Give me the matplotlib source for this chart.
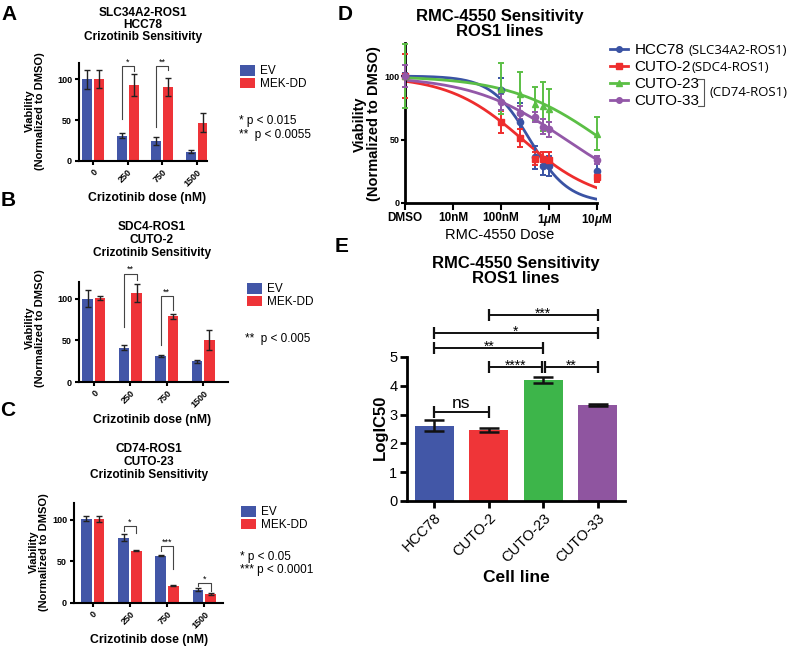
import numpy as np
import matplotlib
matplotlib.use("Agg")
import matplotlib.pyplot as plt
from matplotlib.lines import Line2D
from matplotlib.ticker import FixedLocator, LogLocator, NullFormatter

plt.rcParams["font.family"] = ["Liberation Sans", "DejaVu Sans"]
plt.rcParams["mathtext.fontset"] = "custom"
plt.rcParams["mathtext.rm"] = "Liberation Sans:bold"
plt.rcParams["mathtext.it"] = "Liberation Sans:italic:bold"

# ---- data: panels A-C (crizotinib, viability % of DMSO) ----
doses = ["0", "250", "750", "1500"]
a_ev = [100, 31, 25, 11.5]
a_ev_err = [12, 3, 5, 2]
a_mek = [100, 93, 91, 47]
a_mek_err = [11, 14, 11, 12]
b_ev = [100, 41, 31, 25]
b_ev_err = [10, 3, 1.5, 2]
b_mek = [101, 107, 79, 50]
b_mek_err = [2, 11, 3, 12]
c_ev = [101, 78.5, 57, 16]
c_ev_err = [3, 4, 1, 2]
c_mek = [101, 63, 21, 10.5]
c_mek_err = [4, 1, 1, 1]

# ---- data: panel D (RMC-4550 dose response) ----
d_doses = [1, 100, 250, 500, 750, 1000, 10000]  # nM, DMSO plotted at 1 nM
d_names = ["HCC78", "CUTO-2", "CUTO-23", "CUTO-33"]
d_fusions = ["(SLC34A2-ROS1)", "(SDC4-ROS1)", "(CD74-ROS1)"]
hcc78 = [100, 88.7, 63.8, 36, 29, 29, 25]
hcc78_err = [2, 10, 15, 9, 7, 8, 8]
cuto2 = [100, 63.8, 51, 35, 35, 34, 20.5]
cuto2_err = [17, 9, 7, 5, 5, 6, 4]
cuto23 = [100, 90, 86, 78, 76, 74, 54.6]
cuto23_err = [25, 20, 17, 13, 19, 16, 13]
cuto33 = [100, 79.5, 71, 68, 60, 58, 34]
cuto33_err = [8.5, 6, 5, 4, 6, 6, 3]
# fitted 4PL curves: top, bottom, logIC50 (nM), hill slope
fit_top = [100, 100, 100, 100]
fit_bottom = [0, 0, 0, 0]
fit_logic50 = [2.60, 2.45, 4.11, 3.35]
fit_hill = [1.08, 0.56, 0.45, 0.44]

# ---- data: panel E (LogIC50) ----
cell_lines = ["HCC78", "CUTO-2", "CUTO-23", "CUTO-33"]
logic50 = [2.62, 2.48, 4.19, 3.34]
logic50_err = [0.18, 0.07, 0.1, 0.03]

EV_C = "#4256a7"
MEK_C = "#ee3338"
LINE_C = ["#3a53a4", "#ee2d2d", "#5bbf45", "#9358a8"]
E_C = ["#4257a7", "#ef3538", "#3db54a", "#8f55a0"]

W, H = 800, 650
fig = plt.figure(figsize=(W / 100, H / 100), dpi=100)


def box(l, t, r, b):
    return [l / W, 1 - b / H, (r - l) / W, (b - t) / H]


def ft(x, y, s, **kw):
    return fig.text(x / W, 1 - y / H, s, **kw)


def prism(ax, lw=1.5):
    for s in ("top", "right"):
        ax.spines[s].set_visible(False)
    for s in ("left", "bottom"):
        ax.spines[s].set_linewidth(lw)


def bar_panel(rect, xlim, ev, ev_err, mek, mek_err, brackets, leg_xy):
    ax = fig.add_axes(rect)
    x = np.arange(len(doses))
    ekw = dict(lw=1, capsize=2.5, capthick=1, ecolor="#222222")
    ax.bar(x - 0.17, ev, 0.29, yerr=ev_err, color=EV_C, error_kw=ekw, label="EV")
    ax.bar(x + 0.17, mek, 0.29, yerr=mek_err, color=MEK_C, error_kw=ekw, label="MEK-DD")
    ax.set_xlim(*xlim)
    ax.set_ylim(0, 120)
    ax.set_yticks([0, 50, 100])
    ax.set_xticks(x)
    ax.set_xticklabels(doses, rotation=45, ha="right", rotation_mode="anchor",
                       fontsize=7.5, fontweight="bold")
    prism(ax)
    ax.tick_params(width=1.5, length=3, labelsize=6.5, pad=2)
    for t in ax.get_yticklabels():
        t.set_fontweight("bold")
    for g, lb, top, rb, lab in brackets:
        xl, xr = g - 0.17, g + 0.17
        ax.plot([xl, xl, xr, xr], [lb, top, top, rb], color="#444444", lw=0.8, clip_on=False)
        ax.text(g, top + 2, lab, ha="center", va="baseline", fontsize=6.5)
    ax.legend(loc="upper left", bbox_to_anchor=(leg_xy[0] / W, 1 - leg_xy[1] / H),
              bbox_transform=fig.transFigure, frameon=False, fontsize=8.5,
              handlelength=1.3, handleheight=1.0, handletextpad=0.4,
              labelspacing=0.05, borderpad=0, borderaxespad=0)
    return ax


# ---- A ----
bar_panel(box(79, 63, 207, 161), (-0.41, 3.3), a_ev, a_ev_err, a_mek, a_mek_err,
          [(1, 51, 116, 110, "*"), (2, 42, 116, 111, "**")], (240, 65))
ft(143, 25, "SLC34A2-ROS1\nHCC78\nCrizotinib Sensitivity", ha="center", va="center",
   fontsize=8.6, fontweight="bold", linespacing=1.05)
ft(35, 111, "Viability\n(Normalized to DMSO)", rotation=90, ha="center", va="center",
   fontsize=8, fontweight="bold", linespacing=1.0)
ft(147, 198, "Crizotinib dose (nM)", ha="center", va="center", fontsize=8.8, fontweight="bold")
ft(239, 121, "* p < 0.015", ha="left", va="center", fontsize=8.5)
ft(239, 135, "**  p < 0.0055", ha="left", va="center", fontsize=8.5)

# ---- B ----
bar_panel(box(79, 282, 228, 382), (-0.41, 3.68), b_ev, b_ev_err, b_mek, b_mek_err,
          [(1, 66, 130, 122, "**"), (2, 44, 103, 86, "**")], (247, 283))
ft(152, 240, "SDC4-ROS1\nCUTO-2\nCrizotinib Sensitivity", ha="center", va="center",
   fontsize=8.6, fontweight="bold", linespacing=1.1)
ft(35, 328, "Viability\n(Normalized to DMSO)", rotation=90, ha="center", va="center",
   fontsize=8, fontweight="bold", linespacing=1.0)
ft(152, 420, "Crizotinib dose (nM)", ha="center", va="center", fontsize=8.8, fontweight="bold")
ft(245, 339, "**  p < 0.005", ha="left", va="center", fontsize=8.5)

# ---- C ----
bar_panel(box(74, 503, 223, 603), (-0.5, 3.5), c_ev, c_ev_err, c_mek, c_mek_err,
          [(1, 86, 92, 84, "*"), (2, 62, 68.5, 41, "***"), (3, 20, 24, 14, "*")], (241, 506))
ft(149, 462, "CD74-ROS1\nCUTO-23\nCrizotinib Sensitivity", ha="center", va="center",
   fontsize=8.6, fontweight="bold", linespacing=1.1)
ft(39, 552, "Viability\n(Normalized to DMSO)", rotation=90, ha="center", va="center",
   fontsize=8, fontweight="bold", linespacing=1.0)
ft(149, 640, "Crizotinib dose (nM)", ha="center", va="center", fontsize=8.8, fontweight="bold")
ft(240, 557, "* p < 0.05", ha="left", va="center", fontsize=8.5)
ft(240, 570, "*** p < 0.0001", ha="left", va="center", fontsize=8.5)

# ---- D ----
axD = fig.add_axes(box(405, 43, 597, 203))
d_vals = [hcc78, cuto2, cuto23, cuto33]
d_errs = [hcc78_err, cuto2_err, cuto23_err, cuto33_err]
markers = ["o", "s", "^", "o"]
xs = np.logspace(0, 4, 300)
handles = []
for k in range(4):
    c = LINE_C[k]
    axD.errorbar(d_doses, d_vals[k], yerr=d_errs[k], fmt=markers[k], color=c, ms=4.5,
                 elinewidth=1.4, capsize=2.5, capthick=1.4, clip_on=False, zorder=3)
    curve = fit_bottom[k] + (fit_top[k] - fit_bottom[k]) / (1 + 10 ** ((np.log10(xs) - fit_logic50[k]) * fit_hill[k]))
    axD.plot(xs, curve, color=c, lw=2, zorder=2)
    handles.append(Line2D([], [], color=c, lw=2, marker=markers[k], ms=4))
axD.set_xscale("log")
axD.set_xlim(1, 10000)
axD.set_ylim(0, 126)
axD.set_yticks([0, 50, 100])
axD.xaxis.set_major_locator(FixedLocator([1, 10, 100, 1000, 10000]))
axD.set_xticklabels(["DMSO", "10nM", "100nM", "1$\\mu$M", "10$\\mu$M"], fontsize=8.5, fontweight="bold")
axD.xaxis.set_minor_locator(LogLocator(base=10, subs=np.arange(2, 10)))
axD.xaxis.set_minor_formatter(NullFormatter())
prism(axD, 2)
axD.tick_params(axis="x", which="major", width=1.5, length=5, pad=1.5)
axD.tick_params(axis="x", which="minor", width=1.2, length=3)
axD.tick_params(axis="y", width=1.5, length=3, labelsize=6.5, pad=1)
for t in axD.get_yticklabels():
    t.set_fontweight("bold")
ft(500, 24, "RMC-4550 Sensitivity\nROS1 lines", ha="center", va="center", fontsize=12,
   fontweight="bold", linespacing=1.0)
ft(367, 124, "Viability\n(Normalized to DMSO)", rotation=90, ha="center", va="center",
   fontsize=10.5, fontweight="bold", linespacing=1.0)
ft(500, 235, "RMC-4550 Dose", ha="center", va="center", fontsize=10.5)
leg = axD.legend(handles, d_names, loc="upper left", bbox_to_anchor=(610 / W, 1 - 43 / H),
                 bbox_transform=fig.transFigure, frameon=False, fontsize=11,
                 handlelength=1.2, handletextpad=0.4, labelspacing=0.2,
                 borderpad=0, borderaxespad=0)

# ---- E ----
axE = fig.add_axes(box(407, 357, 625, 501))
xe = np.arange(len(cell_lines))
axE.bar(xe, logic50, 0.72, color=E_C)
axE.errorbar(xe, logic50, yerr=logic50_err, fmt="none", ecolor="#111111", elinewidth=1.8,
             capsize=7, capthick=1.8)
axE.set_xlim(-0.5, 3.5)
axE.set_ylim(0, 5)
axE.set_yticks(range(6))
axE.set_xticks(xe)
axE.set_xticklabels(cell_lines, rotation=45, ha="right", rotation_mode="anchor", fontsize=10.5)
prism(axE, 2)
axE.tick_params(width=2, length=5, labelsize=10.5, pad=2)
e_brackets = [(0, 1, 3.08, "ns"), (1, 1.97, 4.64, "****"), (2.03, 3, 4.64, "**"),
              (0, 2, 5.3, "**"), (0, 3, 5.85, "*"), (1, 3, 6.47, "***")]
for x1, x2, y, lab in e_brackets:
    axE.plot([x1, x2], [y, y], color="#111111", lw=1.4, marker="|", ms=8, mew=1.6, clip_on=False)
    if lab == "ns":
        axE.text((x1 + x2) / 2, y + 0.14, lab, ha="center", va="baseline", fontsize=12.5)
    else:
        axE.text((x1 + x2) / 2, y - 0.1, lab, ha="center", va="baseline", fontsize=10)
ft(516, 271, "RMC-4550 Sensitivity\nROS1 lines", ha="center", va="center", fontsize=12,
   fontweight="bold", linespacing=1.0)
ft(380, 427, "LogIC50", rotation=90, ha="center", va="center", fontsize=12, fontweight="bold")
ft(516, 577, "Cell line", ha="center", va="center", fontsize=12.5, fontweight="bold")

# panel letters
for lx, ly, L in [(9, 15, "A"), (8, 200, "B"), (8, 410, "C"), (345, 15, "D"), (342, 247, "E")]:
    ft(lx, ly, L, ha="center", va="center", fontsize=15, fontweight="bold")

# legend annotations for D (fusion partners)
fig.canvas.draw()
r = fig.canvas.get_renderer()
bbs = [t.get_window_extent(r) for t in leg.get_texts()]
pfont = dict(fontsize=9.5, family=["Open Sans", "DejaVu Sans"], va="center", ha="left")
fig.text((bbs[0].x1 + 4) / W, (bbs[0].y0 + bbs[0].y1) / 2 / H, d_fusions[0], **pfont)
fig.text((bbs[1].x1 + 1) / W, (bbs[1].y0 + bbs[1].y1) / 2 / H, d_fusions[1], **pfont)
bx = max(bbs[2].x1, bbs[3].x1) + 5
ytop, ybot = bbs[2].y1 - 2, bbs[3].y0 + 2
fig.add_artist(Line2D([(bx - 6) / W, bx / W, bx / W, (bx - 6) / W],
                      [ytop / H, ytop / H, ybot / H, ybot / H], color="#555555", lw=0.8))
fig.text((bx + 5) / W, (ytop + ybot) / 2 / H, d_fusions[2], **pfont)

fig.savefig("out.png", dpi=100)
